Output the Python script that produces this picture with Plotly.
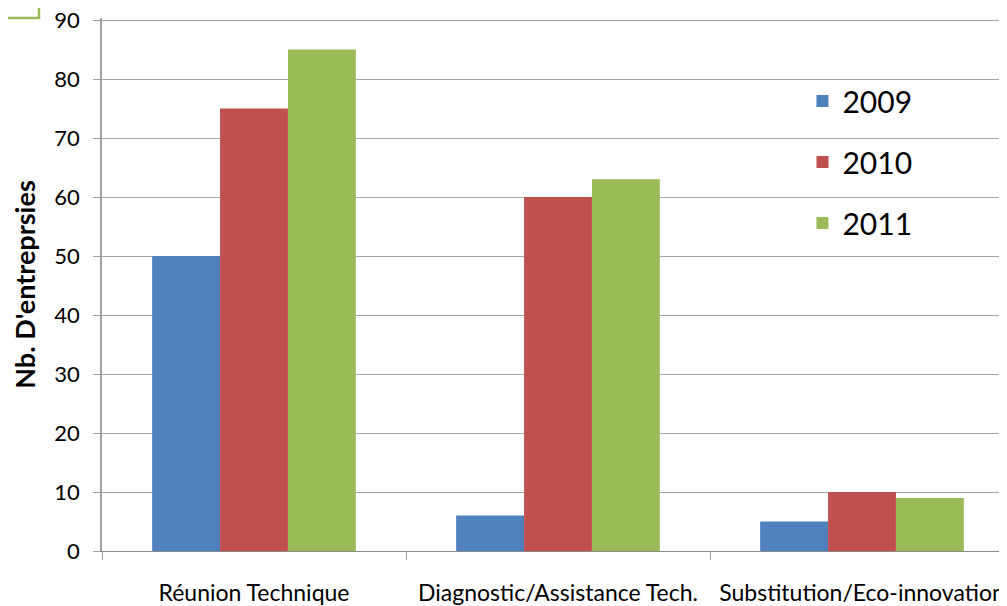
import plotly.graph_objects as go

categories = ["Réunion Technique", "Diagnostic/Assistance Tech.", "Substitution/Eco-innovation"]
years = ["2009", "2010", "2011"]
values_2009 = [50, 6, 5]
values_2010 = [75, 60, 10]
values_2011 = [85, 63, 9]
colors = ["#4F81BD", "#C0504D", "#9BBB59"]

FONT = "Lato"
fig = go.Figure()
for name, vals, col in zip(years, [values_2009, values_2010, values_2011], colors):
    fig.add_trace(go.Bar(x=categories, y=vals, name=name, marker=dict(color=col, line=dict(width=0)),
                         legendgroup=name))

# page body has an 8px margin: figure sized so that it fits the 1007x606 window
fig.update_layout(
    width=999, height=598,
    margin=dict(l=94, r=0, t=10, b=55, autoexpand=False),
    paper_bgcolor="white", plot_bgcolor="white",
    barmode="group", bargap=0.33, bargroupgap=0,
    font=dict(family=FONT, color="black"),
    showlegend=True,
    legend=dict(x=0.774, y=0.893, xanchor="left", yanchor="top",
                font=dict(size=30, family=FONT), tracegroupgap=19,
                bgcolor="rgba(0,0,0,0)", itemwidth=30),
    xaxis=dict(range=[-0.5, -0.5 + 905 / 304], tickson="boundaries", ticks="outside", ticklen=8,
               tickcolor="#A0A0A0", showline=True, linecolor="#8C8C8C", linewidth=1,
               showgrid=False, tickfont=dict(size=23, family=FONT), ticklabelstandoff=21,
               tickangle=0, automargin=False, ticklabeloverflow="allow"),
    yaxis=dict(range=[0, 90.34], tickvals=[0, 10, 20, 30, 40, 50, 60, 70, 80, 90],
               ticks="outside", ticklen=7, tickcolor="#A0A0A0",
               showline=True, linecolor="#A0A0A0", linewidth=1.5,
               gridcolor="#A6A6A6", gridwidth=1, zeroline=False,
               tickfont=dict(size=22, family=FONT), automargin=False, ticklabelstandoff=9,
               ticklabeloverflow="allow",
               title=dict(text="<b>Nb. D'entreprsies</b>", font=dict(size=27, family=FONT), standoff=17)),
    shapes=[dict(type="rect", xref="paper", yref="paper", x0=-0.3, x1=(39 - 102) / 905,
                 y0=(551 - 18) / 533, y1=1.2, line=dict(color="#9BBB59", width=2.5))],
)

fig.write_html("out.html")
